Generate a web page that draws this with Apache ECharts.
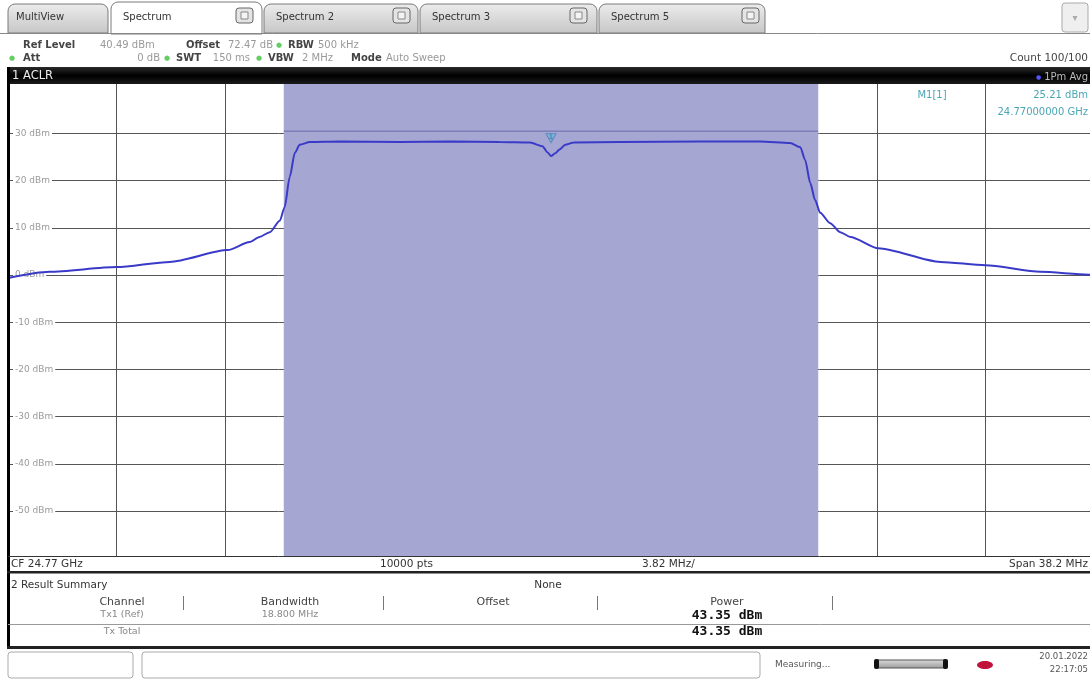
<!DOCTYPE html>
<html><head><meta charset="utf-8">
<script src="https://cdn.jsdelivr.net/npm/echarts@6/dist/echarts.min.js"></script>
<style>html,body{margin:0;padding:0;background:#fff}#c{width:1090px;height:684px}</style>
</head><body><div id="c"></div><script>
// ---- data ----
const freqMHz  = [-19.1,-17.64,-15.28,-13.41,-11.37,-10.60,-10.25,-9.89,-9.54,-9.37,-9.19,-9.01,-8.84,-8.48,-7.43,-5.32,-3.56,-1.80,-0.74,-0.30,-0.12,0.0,0.15,0.30,0.50,0.80,2.43,5.25,7.36,8.41,8.77,8.94,9.12,9.29,9.47,9.82,10.17,10.53,11.51,13.70,15.28,17.22,18.91,19.1];
const levelDbm = [-0.6,0.7,1.7,2.8,5.3,7.0,8.1,9.1,11.5,14.4,20.8,25.9,27.6,28.2,28.3,28.2,28.3,28.2,28.1,27.3,26.0,25.21,25.8,26.6,27.6,28.1,28.2,28.3,28.3,28.0,27.1,24.4,19.5,15.9,13.2,11.0,9.1,8.1,5.7,2.8,2.1,0.7,0.1,0.0];
const yTicks = [30,20,10,0,-10,-20,-30,-40,-50];
const yTickLabels = ['30 dBm','20 dBm','10 dBm','0 dBm','-10 dBm','-20 dBm','-30 dBm','-40 dBm','-50 dBm'];
const refLevelDbm = 40.49;
const rangeDb = 100;
const spanMHz = 38.2;
const divMHz = 3.82;
const channelBwMHz = 18.8;
const limitDbm = 30.5;
const markerF = 0.0, markerV = 25.21;
const visibleSpanMHz = 38.06; // the screenshot cuts off the last few pixels of the span

const tabs = ['MultiView','Spectrum','Spectrum 2','Spectrum 3','Spectrum 5'];
const summaryHeaders = ['Channel','Bandwidth','Offset','Power'];
const summaryRows = [['Tx1 (Ref)','18.800 MHz','','43.35 dBm'],['Tx Total','','','43.35 dBm']];

// ---- chrome helpers ----
const FF = '"DejaVu Sans", sans-serif';
function T(x,y,text,o){o=o||{};return {type:'text',x:x,y:y,z:100,silent:true,style:{text:text,fill:o.c||'#333',font:(o.w||'normal')+' '+(o.s||10)+'px '+(o.f||FF),align:o.a||'left',textAlign:o.a||'left',verticalAlign:'middle',textVerticalAlign:'middle'}};}
function R(x,y,w,h,fill,o){o=o||{};return {type:'rect',z:o.z||99,silent:true,shape:{x:x,y:y,width:w,height:h,r:o.r||0},style:{fill:fill,stroke:o.st||null,lineWidth:o.lw||1}};}
function L(x1,y1,x2,y2,c,w){return {type:'line',z:100,silent:true,shape:{x1:x1,y1:y1,x2:x2,y2:y2},style:{stroke:c,lineWidth:w||1}};}
const grayGrad={type:'linear',x:0,y:0,x2:0,y2:1,colorStops:[{offset:0,color:'#ececec'},{offset:1,color:'#c6c6c6'}]};
const barGrad={type:'linear',x:0,y:0,x2:0,y2:1,colorStops:[{offset:0,color:'#2a2a2a'},{offset:0.5,color:'#000'},{offset:1,color:'#1a1a1a'}]};

const g = [];
// tabs
g.push(L(0,33.5,1090,33.5,'#888',1));
const tabBoxes=[[8,4,100,29],[111,2,151,32],[264,4,154,29],[420,4,177,29],[599,4,166,29]];
const icons=[null,236,393,570,742];
tabBoxes.forEach((b,i)=>{
  g.push(R(b[0],b[1],b[2],b[3], i===1?'#fff':grayGrad,{st:'#7a7a7a',r:[7,7,0,0],lw:1}));
  g.push(T(b[0]+ (i===0?8:12), 17, tabs[i], {s:10, c:'#333'}));
  if(icons[i]){g.push(R(icons[i],8,17,15,'#e4e4e4',{st:'#666',r:3,z:101}));g.push(R(icons[i]+5,12,7,7,'#f4f4f4',{st:'#888',z:102}));}
});
g.push(R(1062,3,26,29,'#efefef',{st:'#aaa',r:3}));
g.push(T(1075,18,'▾',{s:10,c:'#aaa',a:'center'}));
// header
g.push(T(23,45,'Ref Level',{w:'bold',c:'#444'}));
g.push(T(100,45,'40.49 dBm',{c:'#999'}));
g.push(T(186,45,'Offset',{w:'bold',c:'#444'}));
g.push(T(228,45,'72.47 dB',{c:'#999'}));
g.push(T(276,45,'●',{c:'#6c6',s:7}));
g.push(T(288,45,'RBW',{w:'bold',c:'#444'}));
g.push(T(318,45,'500 kHz',{c:'#999'}));
g.push(T(9,58,'●',{c:'#6c6',s:7}));
g.push(T(23,58,'Att',{w:'bold',c:'#444'}));
g.push(T(160,58,'0 dB',{c:'#999',a:'right'}));
g.push(T(164,58,'●',{c:'#6c6',s:7}));
g.push(T(176,58,'SWT',{w:'bold',c:'#444'}));
g.push(T(250,58,'150 ms',{c:'#999',a:'right'}));
g.push(T(256,58,'●',{c:'#6c6',s:7}));
g.push(T(268,58,'VBW',{w:'bold',c:'#444'}));
g.push(T(333,58,'2 MHz',{c:'#999',a:'right'}));
g.push(T(351,58,'Mode',{w:'bold',c:'#444'}));
g.push(T(386,58,'Auto Sweep',{c:'#999'}));
g.push(T(1088,58,'Count 100/100',{c:'#444',a:'right',s:10.5}));
// black title bar
g.push(R(7,67,1083,17,barGrad,{z:99}));
g.push(T(12,76,'1 ACLR',{c:'#eee',s:11.5}));
g.push(T(1036,77,'●',{c:'#55f',s:6}));
g.push(T(1088,77,'1Pm Avg',{c:'#bbb',s:10,a:'right'}));
// left border
g.push(R(7,67,3,582,'#000',{z:99}));
// marker info
g.push(T(932,95,'M1[1]',{c:'#4aa6b4',s:10,a:'center'}));
g.push(T(1088,95,'25.21 dBm',{c:'#4aa6b4',s:10,a:'right'}));
g.push(T(1088,112,'24.77000000 GHz',{c:'#4aa6b4',s:10,a:'right'}));
// bottom axis row
g.push(L(8,556.5,1090,556.5,'#333',1));
g.push(R(8,557,1082,14,'#fff',{z:98}));
g.push(T(11,564,'CF 24.77 GHz',{s:10.5,c:'#333'}));
g.push(T(380,564,'10000 pts',{s:10.5,c:'#333'}));
g.push(T(642,564,'3.82 MHz/',{s:10.5,c:'#333'}));
g.push(T(1088,564,'Span 38.2 MHz',{s:10.5,c:'#333',a:'right'}));
g.push(R(7,571,1083,2.5,'#222',{z:100}));
// result summary
g.push(T(11,585,'2 Result Summary',{s:10.5,c:'#333'}));
g.push(T(548,585,'None',{s:10.5,c:'#333',a:'center'}));
const colX=[122,290,493,727];
const sepX=[183,383,597,832];
summaryHeaders.forEach((h,i)=>g.push(T(colX[i],602,h,{s:11,c:'#444',a:'center'})));
sepX.forEach(x=>g.push(L(x+0.5,596,x+0.5,610,'#777',1)));
summaryRows.forEach((r,j)=>{
  const y = j===0?616:632;
  r.forEach((v,i)=>{ if(!v) return;
    if(i===3) g.push(T(colX[i],y,v,{s:13,w:'bold',c:'#111',a:'center',f:'"DejaVu Sans Mono", monospace'}));
    else g.push(T(colX[i],j===0?615:632,v,{s:9.5,c:'#888',a:'center'}));
  });
});
g.push(L(8,624.5,1090,624.5,'#999',1));
g.push(R(7,646,1083,3,'#222',{z:100}));
// status bar
g.push(R(8,652,125,26,'#fff',{st:'#aaa',r:3}));
g.push(R(142,652,618,26,'#fff',{st:'#aaa',r:3}));
g.push(T(775,665,'Measuring...',{s:9,c:'#555'}));
g.push(R(876,660,70,8,{type:'linear',x:0,y:0,x2:0,y2:1,colorStops:[{offset:0,color:'#ddd'},{offset:1,color:'#999'}]},{st:'#555',r:2}));
g.push(R(874,659,5,10,'#111',{r:2,z:101}));
g.push(R(943,659,5,10,'#111',{r:2,z:101}));
g.push({type:'ellipse',z:100,silent:true,shape:{cx:985,cy:665,rx:8,ry:4},style:{fill:'#c0143c'}});
g.push(T(1088,657,'20.01.2022',{s:8.5,c:'#555',a:'right'}));
g.push(T(1088,670,'22:17:05',{s:8.5,c:'#555',a:'right'}));

const traceData = freqMHz.map((f,i)=>[f, levelDbm[i]]);
const half = channelBwMHz/2;

const chart = echarts.init(document.getElementById('c'), null, {renderer:'canvas'});
chart.setOption({
  animation:false,
  backgroundColor:'#fff',
  grid:{left:8,right:0,top:84,bottom:128,containLabel:false},
  xAxis:{type:'value',min:-spanMHz/2,max:-spanMHz/2+visibleSpanMHz,interval:divMHz,
    axisLine:{show:false},axisTick:{show:false},axisLabel:{show:false},
    splitLine:{show:true,lineStyle:{color:'#555',width:1}}},
  yAxis:{type:'value',min:refLevelDbm-rangeDb,max:refLevelDbm,
    axisLine:{show:false},
    axisTick:{show:false,customValues:yTicks},
    axisLabel:{show:true,inside:true,customValues:yTicks,margin:5,
      formatter:v=>{const i=yTicks.indexOf(Math.round(v));return i>=0?yTickLabels[i]:'';},
      color:'#9a9a9a',fontSize:9,fontFamily:'"DejaVu Sans", sans-serif',backgroundColor:'#fff',padding:[0,2]},
    splitLine:{show:true,lineStyle:{color:'#555',width:1}}},
  graphic:g,
  series:[
    {type:'line',data:traceData,showSymbol:false,smooth:0.25,smoothMonotone:'x',clip:true,
     lineStyle:{color:'#3a3ac8',width:2},z:5,
     markArea:{silent:true,itemStyle:{color:'#a6a6d2',opacity:1},data:[[{xAxis:-half},{xAxis:half}]]},
     markPoint:{silent:true,symbol:'triangle',symbolRotate:180,symbolSize:[10,9],symbolOffset:[0,-18],
       itemStyle:{color:'#7ab0dc',borderColor:'#5a8ab8',borderWidth:1},
       label:{show:true,formatter:'1',color:'#3a6aa0',fontSize:7,offset:[0,-1]},
       data:[{coord:[markerF,markerV]}]}
    },
    {type:'line',data:[[-half,limitDbm],[half,limitDbm]],showSymbol:false,
     lineStyle:{color:'#6a6aaa',width:1},z:4}
  ]
});
</script></body></html>
